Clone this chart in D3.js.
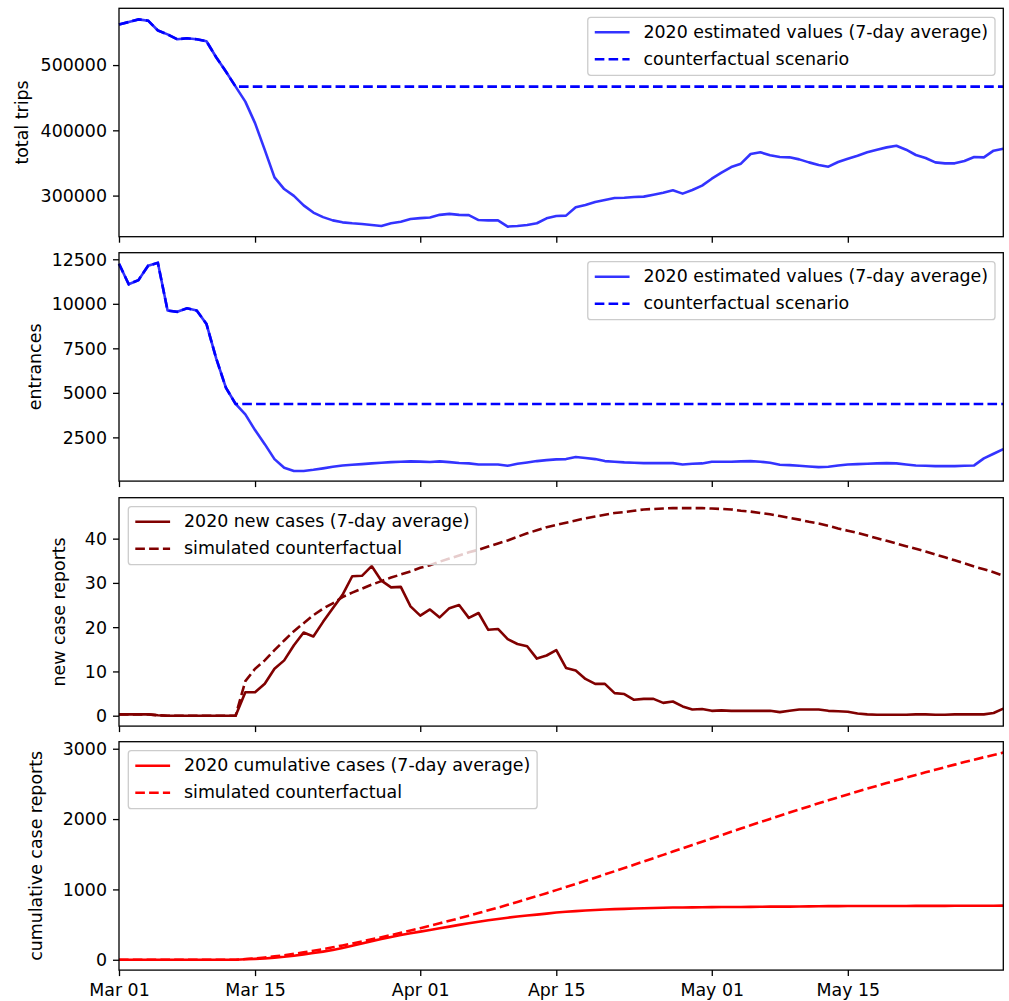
<!DOCTYPE html>
<html>
<head>
<meta charset="utf-8">
<script src="https://cdnjs.cloudflare.com/ajax/libs/d3/7.8.5/d3.min.js"></script>
<style>
body { margin: 0; background: white; }
svg { display: block; }
text { font-family: "DejaVu Sans", sans-serif; fill: #000; }
</style>
</head>
<body>
<svg id="chart" width="1009" height="1001"></svg>
<script>
// one value per day, Mar 01 .. May 31 2020
var startDate = new Date(2020, 2, 1);
var endDate = new Date(2020, 4, 31);

var tickDates = [new Date(2020, 2, 1), new Date(2020, 2, 15), new Date(2020, 3, 1),
                 new Date(2020, 3, 15), new Date(2020, 4, 1), new Date(2020, 4, 15)];
var tickLabels = ["Mar 01", "Mar 15", "Apr 01", "Apr 15", "May 01", "May 15"];

var tripsActual = [
  562000, 566000, 570000, 568000, 553000, 547000, 539500, 541000, 539500, 536500,
  512000, 490000, 467000, 444000, 411000, 370000, 328000, 310000, 299500, 285000,
  274000, 267000, 262000, 259000, 257500, 256500, 255000, 253500, 257500, 260000,
  264000, 265500, 266500, 270500, 272000, 270500, 270000, 262500, 262000, 262000,
  252500, 253500, 255000, 257600, 265200, 268800, 269300, 282100, 285600, 290200,
  293300, 296300, 296800, 297900, 298400, 301400, 304500, 308100, 303000, 308600,
  315200, 325900, 335100, 343800, 348900, 363700, 366300, 361700, 359100, 358600,
  355500, 350900, 346900, 344300, 351400, 356500, 361100, 366300, 370300, 373900,
  376400, 370300, 362200, 357600, 350900, 349400, 349400, 353000, 359100, 358600,
  368800, 371800];
var tripsLevel = 467000;

var entrancesActual = [
  12250, 11100, 11330, 12140, 12300, 9620, 9550, 9750, 9620, 8870,
  6940, 5290, 4375, 3790, 2910, 2120, 1280, 790, 615, 615,
  680, 760, 850, 925, 960, 1000, 1040, 1075, 1110, 1130,
  1150, 1140, 1120, 1150, 1110, 1060, 1040, 980, 980, 980,
  906, 1019, 1094, 1169, 1225, 1263, 1281, 1394, 1338, 1281,
  1169, 1131, 1094, 1075, 1056, 1056, 1056, 1056, 981, 1019,
  1038, 1131, 1131, 1131, 1150, 1169, 1131, 1075, 963, 944,
  906, 869, 831, 850, 925, 981, 1000, 1019, 1038, 1056,
  1038, 981, 925, 906, 888, 888, 888, 906, 925, 1319,
  1581, 1844];
var entrancesLevel = 4375;
var levelStart = 12; // counterfactual flat line starts Mar 13

var newCasesActual = [
  0.3, 0.3, 0.3, 0.3, 0.1, 0, 0, 0, 0, 0,
  0, 0, 0, 5.3, 5.3, 7.2, 10.6, 12.5, 15.9, 18.8,
  17.9, 21.2, 24.3, 27.3, 31.5, 31.6, 33.8, 30.5, 29.0, 29.1,
  24.7, 22.6, 24.0, 22.2, 24.3, 25.0, 22.1, 23.2, 19.4, 19.6,
  17.3, 16.2, 15.7, 12.9, 13.6, 14.8, 10.8, 10.2, 8.3, 7.2,
  7.2, 5.1, 4.9, 3.6, 3.8, 3.8, 2.9, 3.2, 2.1, 1.4,
  1.5, 1.1, 1.2, 1.1, 1.1, 1.1, 1.1, 1.1, 0.8, 1.1,
  1.4, 1.4, 1.4, 1.1, 1.0, 0.9, 0.5, 0.3, 0.2, 0.2,
  0.2, 0.2, 0.3, 0.3, 0.2, 0.2, 0.3, 0.3, 0.3, 0.3,
  0.6, 1.6];
var newCasesSim = [
  0.3, 0.3, 0.3, 0.3, 0.1, 0, 0, 0, 0, 0,
  0, 0, 0, 7.8, 10.6, 12.5, 14.8, 17.0, 19.1, 20.9,
  22.7, 24.2, 25.4, 26.8, 27.8, 28.7, 29.6, 30.4, 31.2, 31.9,
  32.6, 33.4, 34.0, 34.8, 35.5, 36.2, 36.9, 37.5, 38.2, 38.9,
  39.6, 40.4, 41.2, 41.9, 42.6, 43.1, 43.6, 44.1, 44.6, 45.0,
  45.4, 45.8, 46.0, 46.3, 46.6, 46.7, 46.8, 46.9, 46.9, 46.9,
  46.9, 46.8, 46.7, 46.6, 46.3, 46.1, 45.8, 45.5, 45.1, 44.7,
  44.3, 43.8, 43.4, 42.9, 42.3, 41.8, 41.3, 40.7, 40.1, 39.5,
  38.9, 38.3, 37.7, 37.1, 36.4, 35.8, 35.1, 34.4, 33.7, 33.1,
  32.4, 31.6];

var cumActual = [
  0, 1, 1, 1, 1, 1, 1, 1, 1, 1,
  1, 1, 1, 7, 12, 19, 30, 42, 58, 77,
  95, 116, 140, 168, 199, 231, 265, 295, 324, 353,
  378, 400, 424, 447, 471, 496, 518, 541, 561, 580,
  598, 614, 629, 642, 656, 671, 682, 692, 700, 707,
  714, 720, 724, 728, 732, 736, 739, 742, 744, 745,
  747, 748, 749, 750, 751, 752, 753, 755, 755, 756,
  758, 759, 761, 762, 763, 764, 764, 764, 765, 765,
  765, 765, 766, 766, 766, 766, 767, 767, 767, 767,
  768, 770];
var cumSim = [
  0, 1, 1, 1, 1, 1, 1, 1, 1, 1,
  1, 1, 1, 10, 20, 33, 48, 65, 84, 105,
  127, 152, 177, 204, 232, 260, 290, 320, 351, 383,
  416, 449, 483, 518, 554, 590, 627, 664, 703, 741,
  781, 821, 863, 904, 947, 990, 1034, 1078, 1122, 1167,
  1213, 1258, 1304, 1351, 1397, 1444, 1491, 1538, 1585, 1632,
  1678, 1725, 1772, 1819, 1865, 1911, 1957, 2002, 2047, 2092,
  2136, 2180, 2224, 2266, 2309, 2351, 2392, 2433, 2473, 2512,
  2551, 2589, 2627, 2664, 2701, 2738, 2774, 2810, 2845, 2879,
  2912, 2945];

var tripsTicks = [300000, 400000, 500000];
var entrancesTicks = [2500, 5000, 7500, 10000, 12500];
var newCasesTicks = [0, 10, 20, 30, 40];
var cumTicks = [0, 1000, 2000, 3000];

var fs = 17.4;
var lw = 2.6;
var dash = "9.6,4.2";
var left = 119;
var right = 1003.3;
var panelH = 228.4;

var svg = d3.select("#chart");
var x = d3.scaleTime().domain([startDate, endDate]).range([left, right]);

function dayDate(i)
{
    return d3.timeDay.offset(startDate, i);
}

function withLevel(actual, level)
{
    return actual.map(function (v, i) { return i <= levelStart ? v : level; });
}

var panels = [
    {top: 8.3, domain: [237000, 587000], ticks: tripsTicks, label: "total trips", labelX: 22,
     color: "blue", solidOpacity: 0.8, solid: tripsActual, dashed: withLevel(tripsActual, tripsLevel),
     names: ["2020 estimated values (7-day average)", "counterfactual scenario"], legend: "right"},
    {top: 252.7, domain: [45, 12870], ticks: entrancesTicks, label: "entrances", labelX: 35,
     color: "blue", solidOpacity: 0.8, solid: entrancesActual, dashed: withLevel(entrancesActual, entrancesLevel),
     names: ["2020 estimated values (7-day average)", "counterfactual scenario"], legend: "right"},
    {top: 497.7, domain: [-2.35, 49.25], ticks: newCasesTicks, label: "new case reports", labelX: 59,
     color: "#800000", solidOpacity: 1, solid: newCasesActual, dashed: newCasesSim,
     names: ["2020 new cases (7-day average)", "simulated counterfactual"], legend: "left"},
    {top: 741.7, domain: [-147, 3100], ticks: cumTicks, label: "cumulative case reports", labelX: 36,
     color: "red", solidOpacity: 1, solid: cumActual, dashed: cumSim,
     names: ["2020 cumulative cases (7-day average)", "simulated counterfactual"], legend: "left"}
];

function drawPanel(p, idx)
{
    var bottom = p.top + panelH;
    var y = d3.scaleLinear().domain(p.domain).range([bottom, p.top]);
    var g = svg.append("g");

    var line = d3.line()
        .x(function (d, i) { return x(dayDate(i)); })
        .y(function (d) { return y(d); });

    g.append("path")
        .attr("d", line(p.dashed))
        .attr("fill", "none")
        .attr("stroke", p.color)
        .attr("stroke-width", lw)
        .attr("stroke-dasharray", dash);
    g.append("path")
        .attr("d", line(p.solid))
        .attr("fill", "none")
        .attr("stroke", p.color)
        .attr("stroke-opacity", p.solidOpacity)
        .attr("stroke-width", lw)
        .attr("stroke-linejoin", "round");

    // axes
    var yAxis = d3.axisLeft(y).tickValues(p.ticks).tickSize(6).tickPadding(6)
        .tickFormat(d3.format("d"));
    var ya = g.append("g").attr("transform", "translate(" + left + ",0)").call(yAxis);
    var xAxis = d3.axisBottom(x).tickValues(tickDates).tickSize(6).tickPadding(7)
        .tickFormat(function (d, i) { return idx == 3 ? tickLabels[i] : ""; });
    var xa = g.append("g").attr("transform", "translate(0," + bottom + ")").call(xAxis);
    [ya, xa].forEach(function (a) {
        a.select(".domain").remove();
        a.selectAll("line").attr("stroke", "#000").attr("stroke-width", 1.3);
        a.selectAll("text").style("font-size", fs + "px").attr("fill", "#000");
    });
    ya.selectAll("text").attr("dy", "0.34em");
    xa.selectAll("text").attr("dy", "0.74em");

    g.append("rect")
        .attr("x", left).attr("y", p.top)
        .attr("width", right - left).attr("height", panelH)
        .attr("fill", "none").attr("stroke", "#000").attr("stroke-width", 1.3);

    g.append("text")
        .attr("transform", "translate(" + p.labelX + "," + (p.top + panelH / 2) + ") rotate(-90)")
        .attr("text-anchor", "middle")
        .attr("dy", "0.35em")
        .style("font-size", fs + "px")
        .text(p.label);

    // legend
    var lg = g.append("g");
    var box = lg.append("rect");
    var texts = [];
    for (let i = 0; i < 2; i++)
    {
        texts.push(lg.append("text")
            .attr("dy", "0.33em")
            .style("font-size", fs + "px")
            .text(p.names[i]));
    }
    var tw = d3.max(texts, function (t) { return t.node().getComputedTextLength(); });
    var bw = tw + fs * 3.6;
    var bh = 58;
    var bx = p.legend == "right" ? right - 8.3 - bw : left + 9.3;
    var by = p.top + 9;
    box.attr("x", bx).attr("y", by).attr("width", bw).attr("height", bh)
        .attr("rx", 3)
        .attr("fill", "white").attr("fill-opacity", 0.8)
        .attr("stroke", "#cccccc").attr("stroke-width", 1.3);
    for (let i = 0; i < 2; i++)
    {
        let ry = by + 15 + i * 27;
        lg.append("line")
            .attr("x1", bx + 7).attr("x2", bx + 7 + fs * 2)
            .attr("y1", ry).attr("y2", ry)
            .attr("stroke", p.color)
            .attr("stroke-width", lw)
            .attr("stroke-opacity", i == 0 ? p.solidOpacity : 1)
            .attr("stroke-dasharray", i == 0 ? null : dash);
        texts[i].attr("x", bx + 7 + fs * 2.8).attr("y", ry);
    }
}

panels.forEach(drawPanel);
</script>
</body>
</html>
